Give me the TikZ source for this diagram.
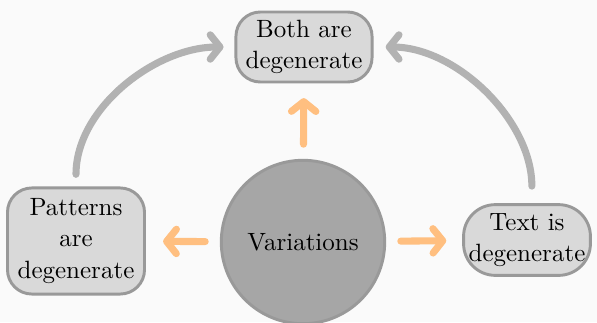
\documentclass[tikz,border=0pt]{standalone}
\usepackage{tikz}
\usetikzlibrary{arrows.meta,positioning,calc}
\definecolor{bgcol}{HTML}{FAFAFA}

\begin{document}
\begin{tikzpicture}[x=0.41pt, y=-0.41pt,
    box/.style={draw=gray!80, fill=gray!30, line width=1.2pt, rounded corners=10pt, align=center, inner sep=0pt,
      font=\fontsize{10.25}{13}\selectfont},
    hub/.style={circle, draw=gray!80, fill=gray!70, line width=1.2pt, minimum size=67pt, inner sep=0pt,
      font=\fontsize{10.25}{13}\selectfont},
    loop/.style={gray!60, line width=2.9pt, line cap=round, -{Straight Barb[round, length=4pt, width=10pt]}},
    push/.style={orange!50, line width=2.9pt, line cap=round, -{Straight Barb[round, length=4pt, width=10pt]}}
  ]
  \fill[bgcol] (0,0) rectangle (597,322);
  \useasboundingbox (0,0) rectangle (597,322);

  % Knoten
  \node[hub] (var) at (303,242) {Variations};
  \node[box, minimum width=55.8pt, minimum height=28.7pt] (both) at (304,47) {Both are\\degenerate};
  \node[box, minimum width=56.2pt, minimum height=43.5pt] (pat) at (76,241) {Patterns\\are\\degenerate};
  \node[box, rounded corners=13pt, minimum width=52pt, minimum height=29pt] (txt) at (527,240) {Text is\\degenerate};

  % Pfeile aus der Mitte
  \draw[push, shorten <=6pt, shorten >=6pt] (var) -- (both);
  \draw[push, shorten <=6pt, shorten >=7pt] (var) -- (pat);
  \draw[push, shorten <=6pt, shorten >=6.5pt] (var) -- (txt);

  % Bögen nach oben
  \draw[loop, shorten <=5pt, shorten >=4.5pt] (pat.north) to[out=90, in=180, looseness=0.95] (both.west);
  \draw[loop, shorten <=7pt, shorten >=5pt] ([xshift=2pt]txt.north) to[out=90, in=0, looseness=0.95] (both.east);
\end{tikzpicture}
\end{document}
